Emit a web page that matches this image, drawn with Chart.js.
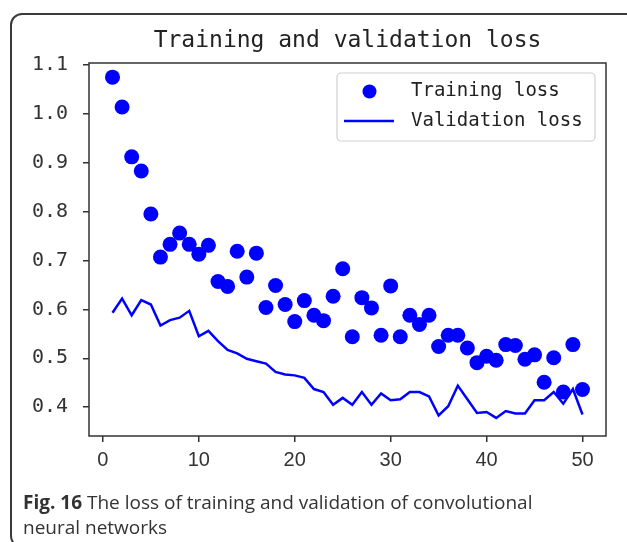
<!DOCTYPE html>
<html>
<head>
<meta charset="utf-8">
<script src="https://cdn.jsdelivr.net/npm/chart.js@4.4.1/dist/chart.umd.min.js"></script>
<style>
  html, body { margin: 0; padding: 0; background: #fff; }
  body { width: 627px; height: 542px; position: relative; overflow: hidden; }
  .frame {
    position: absolute; left: 10px; top: 13px; width: 700px; height: 531px;
    border: 2px solid #3a3a3a; border-radius: 12px;
  }
  #lossChart { position: absolute; left: 0; top: 0; }
  .caption {
    position: absolute; left: 23px; top: 490px;
    font-family: 'Open Sans', sans-serif; font-size: 19px; line-height: 25px; color: #333;
  }
  .caption b { font-weight: 700; }
</style>
</head>
<body>
<div class="frame"></div>
<canvas id="lossChart" width="627" height="490"></canvas>
<div class="caption"><b>Fig. 16</b> The loss of training and validation of convolutional<br>neural networks</div>

<script>
// values
const epochs = [1, 2, 3, 4, 5, 6, 7, 8, 9, 10, 11, 12, 13, 14, 15, 16, 17, 18, 19, 20,
  21, 22, 23, 24, 25, 26, 27, 28, 29, 30, 31, 32, 33, 34, 35, 36, 37, 38, 39, 40,
  41, 42, 43, 44, 45, 46, 47, 48, 49, 50];

const trainingLoss = [1.075, 1.014, 0.912, 0.883, 0.795, 0.707, 0.733, 0.756, 0.733, 0.713,
  0.731, 0.657, 0.647, 0.719, 0.666, 0.715, 0.604, 0.649, 0.610, 0.575,
  0.618, 0.588, 0.577, 0.627, 0.683, 0.544, 0.624, 0.603, 0.547, 0.648,
  0.544, 0.588, 0.569, 0.588, 0.524, 0.547, 0.547, 0.521, 0.491, 0.504,
  0.496, 0.528, 0.526, 0.498, 0.507, 0.451, 0.501, 0.431, 0.528, 0.436];

const validationLoss = [0.593, 0.622, 0.588, 0.619, 0.610, 0.567, 0.578, 0.583, 0.597, 0.545,
  0.556, 0.535, 0.517, 0.510, 0.499, 0.494, 0.489, 0.472, 0.467, 0.465,
  0.460, 0.437, 0.431, 0.405, 0.419, 0.405, 0.431, 0.405, 0.428, 0.414,
  0.416, 0.431, 0.431, 0.422, 0.383, 0.402, 0.444, 0.416, 0.388, 0.390,
  0.378, 0.392, 0.387, 0.387, 0.414, 0.414, 0.431, 0.407, 0.437, 0.385];

const xTickValues = [0, 10, 20, 30, 40, 50];
const yTickValues = [0.4, 0.5, 0.6, 0.7, 0.8, 0.9, 1.0, 1.1];

const chartTitle = 'Training and validation loss';

const BLUE = '#0000ff';
const INK = '#333';
const MONO = "'DejaVu Sans Mono', 'Liberation Mono', monospace";

// matplotlib-like box around the axes, title centred over the axes
const boxFrame = {
  id: 'boxFrame',
  afterDatasetsDraw(chart) {
    const { ctx, chartArea: a } = chart;
    ctx.save();
    ctx.strokeStyle = INK;
    ctx.lineWidth = 1.5;
    ctx.strokeRect(a.left, a.top, a.right - a.left, a.bottom - a.top);

    ctx.font = '23px ' + MONO;
    ctx.fillStyle = '#222';
    ctx.textAlign = 'center';
    ctx.textBaseline = 'middle';
    ctx.fillText(chartTitle, (a.left + a.right) / 2, a.top - 22);
    ctx.restore();
  }
};

// legend in the upper right corner of the axes
const innerLegend = {
  id: 'innerLegend',
  afterDraw(chart) {
    const ctx = chart.ctx;
    const a = chart.chartArea;
    const sets = chart.data.datasets;
    const x0 = a.right - 269, y0 = a.top + 10, w = 258, h = 68;
    ctx.save();
    ctx.fillStyle = 'rgba(255,255,255,0.85)';
    ctx.strokeStyle = '#d0d0d0';
    ctx.lineWidth = 1.2;
    ctx.beginPath();
    ctx.roundRect(x0, y0, w, h, 4);
    ctx.fill();
    ctx.stroke();

    ctx.font = '19px ' + MONO;
    ctx.textBaseline = 'middle';
    sets.forEach((ds, i) => {
      const cy = y0 + 18.5 + i * 29.5;
      if (ds.showLine === false) {
        ctx.fillStyle = ds.backgroundColor;
        ctx.beginPath();
        ctx.arc(x0 + 32.5, cy, 7, 0, Math.PI * 2);
        ctx.fill();
      } else {
        ctx.strokeStyle = ds.borderColor;
        ctx.lineWidth = ds.borderWidth;
        ctx.beginPath();
        ctx.moveTo(x0 + 7, cy);
        ctx.lineTo(x0 + 57, cy);
        ctx.stroke();
      }
      ctx.fillStyle = '#222';
      ctx.fillText(ds.label, x0 + 74, cy);
    });
    ctx.restore();
  }
};

const ctx = document.getElementById('lossChart').getContext('2d');
new Chart(ctx, {
  type: 'line',
  data: {
    datasets: [{
      label: 'Training loss',
      data: epochs.map((e, i) => ({ x: e, y: trainingLoss[i] })),
      showLine: false,
      pointRadius: 7.5,
      pointHoverRadius: 7.5,
      pointBorderWidth: 0,
      backgroundColor: BLUE,
      borderColor: BLUE
    }, {
      label: 'Validation loss',
      data: epochs.map((e, i) => ({ x: e, y: validationLoss[i] })),
      borderColor: BLUE,
      backgroundColor: BLUE,
      borderWidth: 2.5,
      pointRadius: 0,
      tension: 0,
      fill: false
    }]
  },
  options: {
    responsive: false,
    animation: false,
    devicePixelRatio: 1,
    layout: { padding: { left: 0, right: 21, top: 63, bottom: 0 } },
    plugins: {
      legend: { display: false },
      tooltip: { enabled: false },
      title: { display: false }
    },
    scales: {
      x: {
        type: 'linear',
        min: -1.45,
        max: 52.45,
        afterFit(scale) { scale.height = 54; },
        afterBuildTicks(scale) { scale.ticks = xTickValues.map(v => ({ value: v })); },
        grid: { drawOnChartArea: false, drawTicks: true, tickLength: 6, color: INK, lineWidth: 1.5 },
        border: { display: false },
        ticks: {
          color: INK,
          padding: 6,
          maxRotation: 0,
          font: { family: "'Liberation Sans Narrow', 'Arial Narrow', 'Liberation Sans', sans-serif", size: 20 }
        }
      },
      y: {
        type: 'linear',
        min: 0.341,
        max: 1.104,
        afterFit(scale) { scale.width = 89; },
        afterBuildTicks(scale) { scale.ticks = yTickValues.map(v => ({ value: v })); },
        grid: { drawOnChartArea: false, drawTicks: true, tickLength: 6, color: INK, lineWidth: 1.5 },
        border: { display: false },
        ticks: {
          color: INK,
          padding: 15,
          font: { family: MONO, size: 20 },
          callback: v => v.toFixed(1)
        }
      }
    }
  },
  plugins: [boxFrame, innerLegend]
});
</script>
</body>
</html>
